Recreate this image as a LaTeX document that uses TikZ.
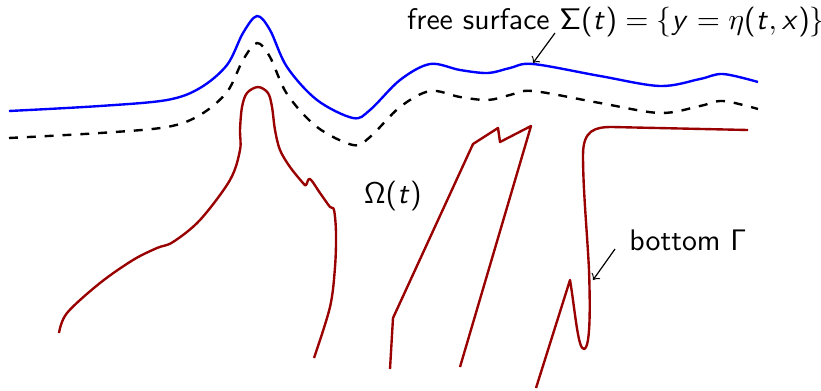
\documentclass[tikz,border=0pt]{standalone}
\renewcommand{\familydefault}{\sfdefault}
% sans serif math
\DeclareSymbolFont{operators}{OT1}{cmss}{m}{n}
\DeclareSymbolFont{sfletters}{OT1}{cmss}{m}{sl}
\DeclareMathSymbol{t}{\mathalpha}{sfletters}{`t}
\DeclareMathSymbol{x}{\mathalpha}{sfletters}{`x}
\DeclareMathSymbol{y}{\mathalpha}{sfletters}{`y}
\definecolor{bottomred}{RGB}{153,0,0}
\tikzset{
  surface/.style={thick, blue},
  bottomline/.style={thick, bottomred, line join=round},
}
\begin{document}
\begin{tikzpicture}[x=0.336pt, y=-0.336pt]
\useasboundingbox (0,0) rectangle (821,390);
% Free surface and its shifted copy
\def\surfpath{plot[smooth, tension=0.55] coordinates {(9,111) (100,106) (167,100) (200,88) (227,65) (243,33) (257,16) (270,30) (287,67) (317,100) (353,118) (370,110) (400,80) (430,64) (460,70) (488,73) (510,68) (533,64) (600,76) (660,86) (700,79) (723,74) (758,82)}}
\draw[surface] \surfpath;
\draw[thick, dashed, shift={(0,27)}] \surfpath;
% Bottom
\draw[bottomline] plot[smooth, tension=0.55] coordinates {(59,333) (67,313) (100,283) (133,260) (157,248) (173,242) (200,220) (230,180) (240,150) (240,130) (242,107) (247,93) (258,87) (268,93) (272,107) (275,130) (280,150) (290,167) (303,183) (306,185) (310,179) (320,193) (330,207) (334,210) (336,233) (335,267) (330,307) (314,358)};
\draw[bottomline] (390,369) -- (393,318) -- (473,144) -- (498,128) -- (500,142) -- (531,126) -- (460,367);
\draw[bottomline] (536,388) -- (570,280) .. controls (575,310) and (578,350) .. (584,349)
  .. controls (591,348) and (590,300) .. (589,270)
  .. controls (587,230) and (583,190) .. (583,155)
  .. controls (583,130) and (595,127) .. (612,127) -- (748,130);
% Labels
\node (surf) at (616,22) {free surface $\Sigma(t)=\{y=\eta(t,x)\}$};
\node (omega) at (393,196) {$\Omega(t)$};
\node (bot) at (688,240) {bottom $\Gamma$};
% Annotations
\coordinate (surfTail) at (555,33);
\coordinate (surfTip) at (533,63);
\coordinate (botTail) at (615,249);
\coordinate (botTip) at (593,280);
\draw[->] (surfTail) -- (surfTip);
\draw[->] (botTail) -- (botTip);
\end{tikzpicture}
\end{document}
